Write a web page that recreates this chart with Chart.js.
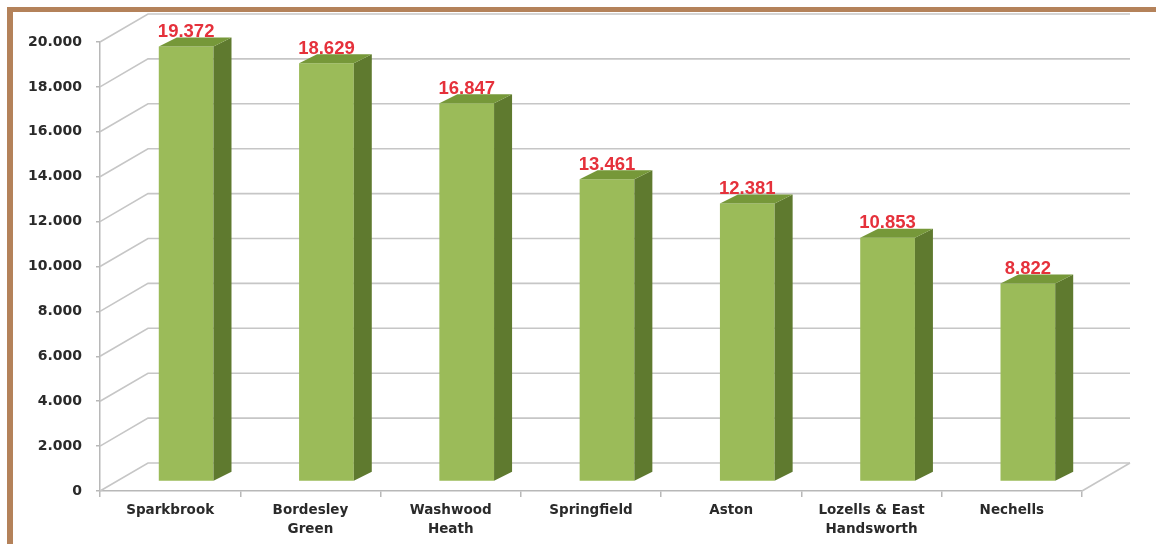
<!DOCTYPE html>
<html>
<head>
<meta charset="utf-8">
<title>Population by ward</title>
<script src="https://cdn.jsdelivr.net/npm/chart.js@4/dist/chart.umd.min.js"></script>
<style>
  html, body { margin: 0; padding: 0; background: #ffffff; }
  #wrap { width: 1156px; height: 544px; }
</style>
</head>
<body>
<div id="wrap"><canvas id="chart" width="1156" height="544"></canvas></div>
<script>
// Wards and their population
const wards = [
  'Sparkbrook',
  ['Bordesley', 'Green'],
  ['Washwood', 'Heath'],
  'Springfield',
  'Aston',
  ['Lozells & East', 'Handsworth'],
  'Nechells'
];
const population = [19372, 18629, 16847, 13461, 12381, 10853, 8822];
const yTickLabels = ['0', '2.000', '4.000', '6.000', '8.000', '10.000',
                     '12.000', '14.000', '16.000', '18.000', '20.000'];

// Pseudo-3D geometry (pixels): floor depth, bar plane offset, bar depth
const WALL_DX = 48, WALL_DY = -28;
const BAR_DX = 16, BAR_DY = -9.5;
const BOX_DX = 18, BOX_DY = -9;

const GRID = '#c6c6c6';
const FRONT = '#9bbb59', SIDE = '#5f7a2f', TOP = '#769839';
const TEXT = '#2a2a2a';

function fmt(n) {
  return String(n).replace(/\B(?=(\d{3})+(?!\d))/g, '.');
}

const framePlugin = {
  id: 'frame',
  beforeDraw(chart) {
    const ctx = chart.ctx;
    ctx.save();
    ctx.fillStyle = '#b4825a';
    ctx.fillRect(7, 7, chart.width - 7, 5);
    ctx.fillRect(7, 7, 6, chart.height - 7);
    ctx.restore();
  }
};

const depthPlugin = {
  id: 'depth',
  beforeDatasetsDraw(chart) {
    const ctx = chart.ctx;
    const xs = chart.scales.x, ys = chart.scales.y;
    const L = xs.left, R = xs.right, B = ys.getPixelForValue(0);
    ctx.save();
    ctx.strokeStyle = GRID;
    ctx.lineWidth = 1.6;
    // side wall diagonals and back wall gridlines
    ys.ticks.forEach(t => {
      const py = ys.getPixelForValue(t.value);
      ctx.beginPath();
      ctx.moveTo(L, py);
      ctx.lineTo(L + WALL_DX, py + WALL_DY);
      ctx.lineTo(R + WALL_DX, py + WALL_DY);
      ctx.stroke();
    });
    // floor right edge
    ctx.beginPath();
    ctx.moveTo(R, B);
    ctx.lineTo(R + WALL_DX, B + WALL_DY);
    ctx.stroke();
    ctx.restore();
    // shift the bar fronts into the middle of the floor depth
    ctx.save();
    ctx.translate(BAR_DX, BAR_DY);
  },
  afterDatasetsDraw(chart) {
    const ctx = chart.ctx;
    const meta = chart.getDatasetMeta(0);
    meta.data.forEach(bar => {
      const p = bar.getProps(['x', 'y', 'base', 'width'], true);
      const l = p.x - p.width / 2, r = p.x + p.width / 2;
      // side face
      ctx.fillStyle = SIDE;
      ctx.beginPath();
      ctx.moveTo(r, p.y);
      ctx.lineTo(r + BOX_DX, p.y + BOX_DY);
      ctx.lineTo(r + BOX_DX, p.base + BOX_DY);
      ctx.lineTo(r, p.base);
      ctx.closePath();
      ctx.fill();
      // top face
      ctx.fillStyle = TOP;
      ctx.beginPath();
      ctx.moveTo(l, p.y);
      ctx.lineTo(l + BOX_DX, p.y + BOX_DY);
      ctx.lineTo(r + BOX_DX, p.y + BOX_DY);
      ctx.lineTo(r, p.y);
      ctx.closePath();
      ctx.fill();
    });
    ctx.restore();
    // value labels
    ctx.save();
    ctx.fillStyle = '#e5313b';
    ctx.font = 'bold 18.5px "Liberation Sans", Arial, sans-serif';
    ctx.textAlign = 'center';
    ctx.textBaseline = 'middle';
    meta.data.forEach((bar, i) => {
      const p = bar.getProps(['x', 'y'], true);
      ctx.fillText(fmt(population[i]), p.x + BAR_DX, p.y + BAR_DY - 14.5);
    });
    ctx.restore();
  }
};

new Chart(document.getElementById('chart'), {
  type: 'bar',
  data: {
    labels: wards,
    datasets: [{
      data: population,
      backgroundColor: FRONT,
      borderWidth: 0,
      barPercentage: 0.39,
      categoryPercentage: 1.0
    }]
  },
  options: {
    responsive: false,
    animation: false,
    devicePixelRatio: 1,
    layout: { padding: { top: 42, right: 74, bottom: 0, left: 0 } },
    plugins: { legend: { display: false }, tooltip: { enabled: false } },
    scales: {
      x: {
        afterFit(scale) { scale.height = 53; },
        grid: { drawOnChartArea: false, drawTicks: true, tickLength: 6, color: '#b8b8b8', lineWidth: 1.5 },
        border: { display: true, color: '#b8b8b8', width: 1.5 },
        ticks: {
          color: TEXT,
          padding: 4,
          maxRotation: 0,
          autoSkip: false,
          font: { family: '"DejaVu Sans", Verdana, sans-serif', weight: 'bold', size: 13.5, lineHeight: 1.4 }
        }
      },
      y: {
        min: 0,
        max: 20000,
        afterFit(scale) { scale.width = 100; },
        grid: { drawOnChartArea: false, drawTicks: true, tickLength: 4, color: '#b8b8b8', lineWidth: 1.5 },
        border: { display: true, color: '#b8b8b8', width: 1.5 },
        ticks: {
          stepSize: 2000,
          padding: 14,
          color: TEXT,
          font: { family: '"DejaVu Sans", Verdana, sans-serif', weight: 'bold', size: 14 },
          callback: (v, i) => yTickLabels[i]
        }
      }
    }
  },
  plugins: [framePlugin, depthPlugin]
});
</script>
</body>
</html>
